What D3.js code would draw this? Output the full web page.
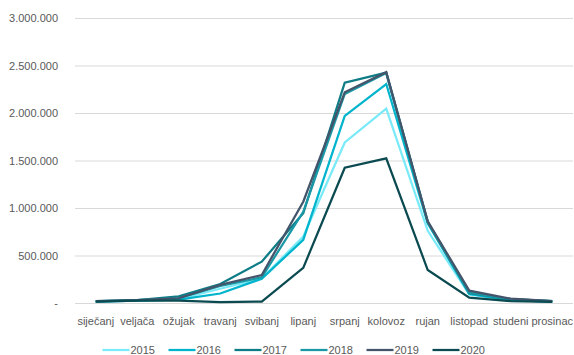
<!DOCTYPE html>
<html><head><meta charset="utf-8">
<script src="https://cdn.jsdelivr.net/npm/d3@7"></script>
<style>body{margin:0;background:#fff}svg{display:block;font-family:"Liberation Sans",Arial,sans-serif}</style>
</head><body><svg id="c" width="574" height="355"></svg>
<script>
const months = ["siječanj","veljača","ožujak","travanj","svibanj","lipanj","srpanj","kolovoz","rujan","listopad","studeni","prosinac"];
const years = ["2015","2016","2017","2018","2019","2020"];
const v2015 = [15000,25000,40000,150000,260000,700000,1690000,2045000,760000,90000,30000,15000];
const v2016 = [15000,25000,35000,100000,255000,665000,1970000,2305000,840000,95000,30000,15000];
const v2017 = [18000,30000,70000,200000,435000,945000,2320000,2425000,850000,105000,40000,20000];
const v2018 = [20000,30000,50000,180000,270000,960000,2200000,2420000,855000,110000,40000,20000];
const v2019 = [20000,30000,50000,190000,295000,1066000,2218000,2430000,860000,130000,45000,20000];
const v2020 = [15000,25000,25000,10000,15000,370000,1424000,1523000,347000,56000,20000,12000];
const yTicks = [0,500000,1000000,1500000,2000000,2500000,3000000];
const colors = ["#7AEAF8","#00B4CC","#0E7C86","#1A98A6","#44546A","#0B4A50"];
const series = [v2015,v2016,v2017,v2018,v2019,v2020];

const svg = d3.select("#c");
const x = d3.scaleBand().domain(months).range([75,573]);
const y = d3.scaleLinear().domain([0,3000000]).range([303,18]);
const fmt = v => v===0 ? "-" : d3.format(",")(v).replace(/,/g,".");

const ya = svg.append("g").attr("transform","translate(75,0)")
  .call(d3.axisLeft(y).tickValues(yTicks).tickSize(-498).tickFormat(fmt).tickPadding(17));
ya.select(".domain").remove();
ya.selectAll("line").attr("stroke","#d9d9d9").attr("stroke-width",1);
ya.selectAll("text").attr("fill","#595959").style("font-size","11px").attr("x",-17);

const xa = svg.append("g").attr("transform","translate(0,303)")
  .call(d3.axisBottom(x).tickSize(0).tickPadding(14));
xa.select(".domain").remove();
xa.selectAll("text").attr("fill","#595959").style("font-size","11px");

const line = d3.line().x((d,i)=>x(months[i])+x.bandwidth()/2).y(d=>y(d));
series.forEach((s,k)=>{
  svg.append("path").datum(s).attr("d",line).attr("fill","none")
    .attr("stroke",colors[k]).attr("stroke-width",2.25).attr("stroke-linejoin","miter");
});

const lg = svg.append("g");
years.forEach((yr,k)=>{
  const x0 = 102.5 + k*66;
  lg.append("line").attr("x1",x0).attr("x2",x0+27).attr("y1",350).attr("y2",350)
    .attr("stroke",colors[k]).attr("stroke-width",2.25);
  lg.append("text").attr("x",x0+28).attr("y",354).attr("fill","#595959")
    .style("font-size","11px").text(yr);
});
</script></body></html>
